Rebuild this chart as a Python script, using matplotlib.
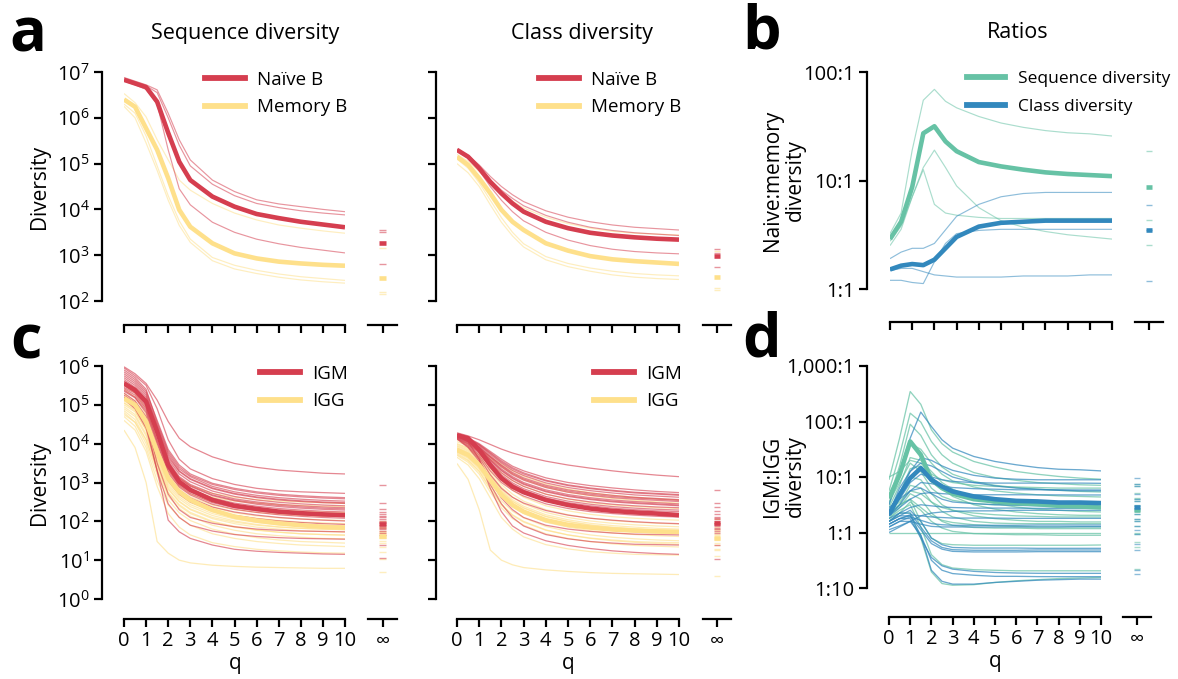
import numpy as np
import matplotlib
matplotlib.use("Agg")
import matplotlib.pyplot as plt
from matplotlib.ticker import FixedLocator, NullLocator

plt.rcParams['font.family'] = ['Open Sans', 'DejaVu Sans']
plt.rcParams['mathtext.fontset'] = 'custom'
plt.rcParams['mathtext.rm'] = 'Open Sans'
plt.rcParams['mathtext.it'] = 'Open Sans:italic'
plt.rcParams['mathtext.bf'] = 'Open Sans:bold'

# ---------------- data (log10 values) ----------------
q = [0, 0.5, 1, 1.5, 2, 2.5, 3, 4, 5, 6, 7, 8, 9, 10]

# panel a: sequence diversity
seq_naive_mean = [6.83, 6.75, 6.67, 6.35, 5.67, 5.04, 4.64, 4.28, 4.06, 3.90, 3.81, 3.73, 3.67, 3.61]
seq_naive = [
    [6.88, 6.80, 6.72, 6.61, 6.10, 5.52, 5.08, 4.64, 4.39, 4.21, 4.12, 4.06, 4.00, 3.95],
    [6.85, 6.78, 6.70, 6.55, 6.00, 5.40, 4.95, 4.55, 4.30, 4.13, 4.04, 3.97, 3.92, 3.88],
    [6.80, 6.72, 6.62, 6.30, 5.30, 4.45, 4.10, 3.72, 3.50, 3.35, 3.25, 3.17, 3.11, 3.05],
]
seq_naive_inf = [3.55, 3.50, 2.81]
seq_naive_inf_mean = 3.27
seq_memory_mean = [6.40, 6.24, 5.77, 5.30, 4.68, 3.99, 3.62, 3.26, 3.04, 2.93, 2.86, 2.82, 2.79, 2.77]
seq_memory = [
    [6.53, 6.33, 6.02, 5.52, 5.08, 4.64, 4.42, 4.13, 3.92, 3.77, 3.66, 3.59, 3.53, 3.48],
    [6.30, 6.10, 5.60, 4.95, 4.30, 3.75, 3.35, 2.95, 2.78, 2.67, 2.59, 2.53, 2.49, 2.45],
    [6.25, 6.00, 5.45, 4.85, 4.20, 3.65, 3.28, 2.88, 2.70, 2.60, 2.52, 2.46, 2.42, 2.39],
]
seq_memory_inf = [3.16, 2.20, 2.15]
seq_memory_inf_mean = 2.50

# panel a: class diversity
cls_naive_mean = [5.30, 5.15, 4.90, 4.60, 4.35, 4.13, 3.95, 3.73, 3.59, 3.49, 3.43, 3.39, 3.36, 3.34]
cls_naive = [
    [5.32, 5.18, 4.97, 4.72, 4.50, 4.32, 4.17, 3.97, 3.83, 3.73, 3.66, 3.61, 3.58, 3.55],
    [5.30, 5.15, 4.93, 4.65, 4.42, 4.24, 4.08, 3.87, 3.72, 3.61, 3.54, 3.49, 3.46, 3.43],
    [5.28, 5.12, 4.85, 4.50, 4.20, 3.95, 3.75, 3.50, 3.33, 3.21, 3.13, 3.08, 3.05, 3.03],
]
cls_naive_inf = [3.13, 3.05, 2.75]
cls_naive_inf_mean = 2.98
cls_memory_mean = [5.15, 4.97, 4.68, 4.35, 3.99, 3.73, 3.55, 3.26, 3.10, 2.98, 2.91, 2.87, 2.84, 2.81]
cls_memory = [
    [5.20, 5.05, 4.82, 4.58, 4.37, 4.18, 4.03, 3.83, 3.69, 3.59, 3.52, 3.48, 3.46, 3.44],
    [5.10, 4.90, 4.58, 4.20, 3.82, 3.50, 3.25, 2.97, 2.82, 2.72, 2.65, 2.60, 2.57, 2.55],
    [5.00, 4.80, 4.50, 4.10, 3.72, 3.42, 3.18, 2.90, 2.75, 2.65, 2.57, 2.52, 2.49, 2.47],
]
cls_memory_inf = [3.10, 2.28, 2.23]
cls_memory_inf_mean = 2.53

# panel b: naive:memory ratios
nm_seq_mean = [0.46, 0.62, 0.94, 1.435, 1.50, 1.36, 1.27, 1.17, 1.13, 1.10, 1.075, 1.06, 1.05, 1.04]
nm_seq = [
    [0.51, 0.70, 1.28, 1.74, 1.84, 1.73, 1.67, 1.59, 1.53, 1.49, 1.46, 1.44, 1.43, 1.41],
    [0.40, 0.55, 0.85, 1.12, 1.28, 1.12, 0.95, 0.75, 0.63, 0.57, 0.53, 0.50, 0.48, 0.46],
    [0.44, 0.58, 0.85, 1.10, 0.78, 0.70, 0.68, 0.66, 0.65, 0.65, 0.65, 0.65, 0.65, 0.65],
]
nm_seq_inf = [1.27, 0.64, 0.41]
nm_seq_inf_mean = 0.94
nm_cls_mean = [0.18, 0.215, 0.23, 0.22, 0.27, 0.375, 0.48, 0.575, 0.61, 0.62, 0.63, 0.63, 0.63, 0.63]
nm_cls = [
    [0.28, 0.34, 0.375, 0.375, 0.42, 0.545, 0.67, 0.78, 0.85, 0.88, 0.89, 0.89, 0.89, 0.89],
    [0.08, 0.08, 0.06, 0.05, 0.25, 0.42, 0.51, 0.54, 0.55, 0.55, 0.55, 0.55, 0.55, 0.55],
    [0.17, 0.19, 0.19, 0.16, 0.13, 0.12, 0.11, 0.11, 0.11, 0.12, 0.12, 0.12, 0.13, 0.13],
]
nm_cls_inf = [0.77, 0.54, 0.07]
nm_cls_inf_mean = 0.54

# panel c: sequence diversity, IGM / IGG
seq_igm_mean = [5.55, 5.38, 5.08, 4.31, 3.45, 3.02, 2.81, 2.55, 2.40, 2.32, 2.25, 2.21, 2.18, 2.16]
seq_igm = [
    [5.98, 5.80, 5.55, 5.12, 4.57, 4.14, 3.92, 3.66, 3.49, 3.39, 3.32, 3.28, 3.24, 3.22],
    [5.95, 5.75, 5.50, 4.90, 4.10, 3.60, 3.35, 3.10, 2.95, 2.85, 2.79, 2.76, 2.74, 2.72],
    [5.85, 5.65, 5.35, 4.60, 3.85, 3.45, 3.22, 2.98, 2.85, 2.76, 2.70, 2.66, 2.63, 2.61],
    [5.80, 5.60, 5.30, 4.50, 3.75, 3.35, 3.15, 2.90, 2.76, 2.67, 2.61, 2.57, 2.54, 2.52],
    [5.70, 5.50, 5.20, 4.40, 3.65, 3.28, 3.08, 2.84, 2.70, 2.61, 2.55, 2.51, 2.48, 2.46],
    [5.65, 5.45, 5.15, 4.35, 3.60, 3.22, 3.02, 2.78, 2.64, 2.55, 2.49, 2.45, 2.42, 2.40],
    [5.60, 5.42, 5.10, 4.30, 3.55, 3.15, 2.95, 2.72, 2.58, 2.50, 2.44, 2.40, 2.37, 2.35],
    [5.55, 5.38, 5.05, 4.25, 3.50, 3.10, 2.90, 2.66, 2.53, 2.44, 2.38, 2.34, 2.31, 2.29],
    [5.50, 5.33, 5.00, 4.20, 3.42, 3.02, 2.83, 2.60, 2.47, 2.39, 2.33, 2.29, 2.26, 2.24],
    [5.45, 5.30, 4.95, 4.10, 3.35, 2.95, 2.76, 2.53, 2.40, 2.32, 2.26, 2.22, 2.19, 2.17],
    [5.42, 5.25, 4.90, 4.05, 3.30, 2.92, 2.72, 2.48, 2.35, 2.27, 2.21, 2.17, 2.14, 2.12],
    [5.38, 5.20, 4.85, 4.00, 3.25, 2.88, 2.68, 2.44, 2.31, 2.23, 2.17, 2.13, 2.10, 2.08],
    [5.35, 5.18, 4.80, 3.90, 3.15, 2.80, 2.60, 2.37, 2.24, 2.16, 2.10, 2.06, 2.03, 2.01],
    [5.30, 5.10, 4.70, 3.80, 3.05, 2.70, 2.50, 2.28, 2.15, 2.07, 2.01, 1.97, 1.94, 1.92],
    [5.25, 5.05, 4.60, 3.50, 2.70, 2.30, 2.10, 1.95, 1.86, 1.80, 1.77, 1.75, 1.74, 1.73],
    [5.20, 5.00, 4.50, 3.30, 2.45, 2.10, 1.90, 1.75, 1.66, 1.61, 1.58, 1.56, 1.55, 1.54],
    [5.15, 4.90, 4.40, 3.30, 2.03, 1.73, 1.56, 1.39, 1.28, 1.23, 1.20, 1.18, 1.16, 1.15],
    [5.75, 5.55, 5.25, 4.45, 3.70, 3.30, 3.10, 2.86, 2.72, 2.63, 2.57, 2.53, 2.50, 2.48],
    [5.60, 5.40, 5.10, 4.25, 3.50, 3.12, 2.92, 2.68, 2.55, 2.47, 2.41, 2.37, 2.34, 2.32],
    [5.90, 5.70, 5.40, 4.55, 3.80, 3.40, 3.18, 2.95, 2.82, 2.73, 2.67, 2.63, 2.60, 2.58],
]
seq_igm_inf = [2.94, 2.48, 2.32, 2.25, 2.14, 2.05, 1.99, 1.95, 1.90, 1.86,
               1.82, 1.80, 1.75, 1.70, 1.65, 1.39, 1.05, 2.10, 2.00, 2.20]
seq_igm_inf_mean = 1.93
seq_igg_mean = [5.17, 5.00, 4.57, 3.79, 3.11, 2.76, 2.55, 2.29, 2.12, 2.02, 1.95, 1.90, 1.86, 1.84]
seq_igg = [
    [5.40, 5.20, 4.75, 3.95, 3.30, 3.00, 2.82, 2.62, 2.52, 2.47, 2.43, 2.41, 2.39, 2.38],
    [5.30, 5.10, 4.65, 3.85, 3.20, 2.90, 2.70, 2.50, 2.39, 2.33, 2.29, 2.26, 2.24, 2.23],
    [5.25, 5.05, 4.60, 3.80, 3.15, 2.83, 2.63, 2.42, 2.30, 2.23, 2.18, 2.15, 2.13, 2.12],
    [5.20, 5.00, 4.55, 3.75, 3.10, 2.78, 2.58, 2.36, 2.22, 2.14, 2.09, 2.06, 2.04, 2.02],
    [5.15, 4.95, 4.50, 3.70, 3.05, 2.73, 2.53, 2.30, 2.16, 2.08, 2.02, 1.98, 1.96, 1.94],
    [5.10, 4.92, 4.45, 3.65, 3.00, 2.68, 2.48, 2.25, 2.11, 2.02, 1.96, 1.92, 1.90, 1.88],
    [5.05, 4.88, 4.40, 3.60, 2.95, 2.63, 2.43, 2.20, 2.06, 1.97, 1.91, 1.87, 1.85, 1.83],
    [5.00, 4.82, 4.35, 3.55, 2.90, 2.58, 2.38, 2.15, 2.01, 1.92, 1.86, 1.82, 1.80, 1.78],
    [4.95, 4.75, 4.25, 3.45, 2.82, 2.50, 2.30, 2.07, 1.94, 1.85, 1.80, 1.76, 1.74, 1.72],
    [4.90, 4.70, 4.20, 3.40, 2.75, 2.43, 2.23, 2.00, 1.87, 1.78, 1.72, 1.68, 1.66, 1.64],
    [4.85, 4.62, 4.10, 3.30, 2.65, 2.33, 2.13, 1.90, 1.77, 1.68, 1.63, 1.59, 1.56, 1.55],
    [4.80, 4.55, 4.00, 3.20, 2.55, 2.22, 2.02, 1.80, 1.67, 1.58, 1.52, 1.48, 1.46, 1.44],
    [4.70, 4.45, 3.90, 3.05, 2.42, 2.10, 1.90, 1.68, 1.56, 1.48, 1.43, 1.39, 1.37, 1.35],
    [4.60, 4.35, 3.80, 2.90, 2.20, 1.85, 1.65, 1.45, 1.35, 1.28, 1.24, 1.21, 1.19, 1.18],
    [4.35, 3.90, 3.00, 1.48, 1.18, 1.00, 0.93, 0.87, 0.84, 0.82, 0.81, 0.80, 0.79, 0.79],
    [5.50, 5.30, 4.90, 4.10, 3.45, 3.12, 2.92, 2.72, 2.62, 2.56, 2.52, 2.50, 2.48, 2.46],
    [5.05, 4.85, 4.35, 3.50, 2.85, 2.52, 2.32, 2.10, 1.98, 1.90, 1.85, 1.82, 1.80, 1.79],
    [4.75, 4.55, 4.10, 3.35, 2.72, 2.40, 2.20, 1.98, 1.85, 1.77, 1.72, 1.68, 1.66, 1.65],
]
seq_igg_inf = [2.00, 1.90, 1.82, 1.75, 1.72, 1.69, 1.65, 1.62, 1.60, 1.56,
               1.50, 1.45, 1.33, 1.22, 0.70, 1.86, 1.58, 1.03]
seq_igg_inf_mean = 1.62

# panel c: class diversity, IGM / IGG
cls_igm_mean = [4.22, 4.14, 3.84, 3.45, 3.11, 2.89, 2.75, 2.55, 2.42, 2.33, 2.27, 2.23, 2.20, 2.16]
cls_igm = [
    [4.28, 4.20, 4.10, 3.98, 3.86, 3.76, 3.68, 3.55, 3.45, 3.37, 3.30, 3.24, 3.19, 3.15],
    [4.25, 4.15, 4.00, 3.80, 3.60, 3.42, 3.30, 3.12, 3.00, 2.92, 2.86, 2.81, 2.77, 2.74],
    [4.24, 4.13, 3.97, 3.75, 3.53, 3.35, 3.22, 3.04, 2.92, 2.84, 2.78, 2.73, 2.70, 2.67],
    [4.23, 4.12, 3.95, 3.72, 3.50, 3.31, 3.18, 2.99, 2.87, 2.79, 2.73, 2.68, 2.65, 2.62],
    [4.22, 4.10, 3.92, 3.68, 3.45, 3.26, 3.12, 2.93, 2.81, 2.73, 2.67, 2.62, 2.59, 2.56],
    [4.21, 4.09, 3.90, 3.64, 3.40, 3.20, 3.06, 2.87, 2.75, 2.67, 2.61, 2.57, 2.54, 2.51],
    [4.20, 4.08, 3.88, 3.60, 3.35, 3.15, 3.00, 2.81, 2.69, 2.61, 2.55, 2.51, 2.48, 2.45],
    [4.20, 4.06, 3.85, 3.56, 3.30, 3.10, 2.95, 2.76, 2.64, 2.56, 2.50, 2.46, 2.43, 2.40],
    [4.19, 4.05, 3.83, 3.52, 3.25, 3.05, 2.90, 2.70, 2.58, 2.50, 2.44, 2.40, 2.37, 2.35],
    [4.18, 4.04, 3.80, 3.48, 3.20, 2.99, 2.84, 2.64, 2.52, 2.44, 2.38, 2.34, 2.31, 2.29],
    [4.17, 4.02, 3.78, 3.45, 3.16, 2.95, 2.80, 2.60, 2.48, 2.40, 2.34, 2.30, 2.27, 2.25],
    [4.16, 4.00, 3.75, 3.40, 3.10, 2.90, 2.75, 2.55, 2.43, 2.35, 2.29, 2.25, 2.22, 2.20],
    [4.15, 3.98, 3.70, 3.30, 3.00, 2.80, 2.65, 2.45, 2.33, 2.25, 2.20, 2.16, 2.13, 2.11],
    [4.14, 3.95, 3.65, 3.20, 2.85, 2.62, 2.47, 2.28, 2.16, 2.08, 2.03, 1.99, 1.96, 1.94],
    [4.13, 3.92, 3.60, 3.05, 2.60, 2.30, 2.10, 1.90, 1.80, 1.74, 1.70, 1.67, 1.66, 1.65],
    [4.12, 3.90, 3.55, 2.95, 2.45, 2.10, 1.88, 1.66, 1.55, 1.48, 1.44, 1.41, 1.40, 1.39],
    [4.20, 4.05, 3.60, 2.85, 2.25, 1.88, 1.70, 1.50, 1.38, 1.30, 1.24, 1.20, 1.17, 1.15],
    [4.22, 4.10, 3.90, 3.66, 3.43, 3.23, 3.09, 2.90, 2.78, 2.70, 2.64, 2.60, 2.57, 2.54],
    [4.20, 4.07, 3.86, 3.58, 3.32, 3.12, 2.97, 2.78, 2.66, 2.58, 2.52, 2.48, 2.45, 2.42],
    [4.24, 4.14, 3.98, 3.77, 3.56, 3.38, 3.25, 3.06, 2.94, 2.86, 2.80, 2.75, 2.72, 2.69],
]
cls_igm_inf = [2.81, 2.46, 2.38, 2.27, 2.18, 2.12, 2.05, 2.00, 1.96, 1.92,
               1.88, 1.84, 1.80, 1.75, 1.70, 1.39, 1.02, 1.95, 2.08, 1.90]
cls_igm_inf_mean = 1.96
cls_igg_mean = [3.84, 3.71, 3.45, 3.06, 2.68, 2.42, 2.25, 2.03, 1.91, 1.84, 1.79, 1.76, 1.74, 1.73]
cls_igg = [
    [4.05, 3.95, 3.80, 3.60, 3.40, 3.22, 3.08, 2.88, 2.75, 2.66, 2.59, 2.54, 2.50, 2.47],
    [4.00, 3.90, 3.72, 3.48, 3.25, 3.05, 2.90, 2.70, 2.57, 2.48, 2.42, 2.38, 2.35, 2.33],
    [3.98, 3.87, 3.68, 3.42, 3.15, 2.92, 2.75, 2.54, 2.41, 2.32, 2.26, 2.22, 2.19, 2.17],
    [3.95, 3.84, 3.64, 3.35, 3.05, 2.80, 2.62, 2.40, 2.27, 2.18, 2.12, 2.08, 2.05, 2.03],
    [3.93, 3.81, 3.60, 3.28, 2.95, 2.70, 2.52, 2.30, 2.17, 2.08, 2.02, 1.98, 1.95, 1.93],
    [3.90, 3.78, 3.55, 3.22, 2.88, 2.62, 2.45, 2.23, 2.10, 2.01, 1.95, 1.91, 1.88, 1.86],
    [3.88, 3.75, 3.52, 3.17, 2.82, 2.56, 2.39, 2.17, 2.04, 1.95, 1.89, 1.85, 1.82, 1.80],
    [3.85, 3.72, 3.48, 3.12, 2.77, 2.51, 2.34, 2.12, 1.99, 1.90, 1.84, 1.80, 1.77, 1.75],
    [3.82, 3.68, 3.44, 3.06, 2.70, 2.44, 2.27, 2.05, 1.92, 1.83, 1.77, 1.73, 1.70, 1.68],
    [3.80, 3.65, 3.40, 3.00, 2.63, 2.37, 2.20, 1.98, 1.85, 1.76, 1.70, 1.66, 1.63, 1.61],
    [3.78, 3.62, 3.35, 2.92, 2.53, 2.26, 2.09, 1.87, 1.74, 1.65, 1.59, 1.55, 1.52, 1.50],
    [3.75, 3.58, 3.30, 2.85, 2.45, 2.17, 2.00, 1.78, 1.65, 1.56, 1.50, 1.46, 1.43, 1.41],
    [3.70, 3.52, 3.22, 2.75, 2.35, 2.07, 1.90, 1.68, 1.56, 1.48, 1.42, 1.38, 1.36, 1.34],
    [3.65, 3.45, 3.10, 2.60, 2.10, 1.80, 1.60, 1.40, 1.29, 1.22, 1.18, 1.15, 1.14, 1.13],
    [3.49, 3.08, 2.30, 1.26, 1.00, 0.88, 0.81, 0.75, 0.71, 0.68, 0.66, 0.65, 0.64, 0.63],
    [4.10, 4.00, 3.85, 3.66, 3.47, 3.30, 3.16, 2.96, 2.83, 2.74, 2.67, 2.62, 2.58, 2.55],
    [3.87, 3.74, 3.50, 3.14, 2.78, 2.52, 2.35, 2.13, 2.00, 1.91, 1.85, 1.81, 1.78, 1.76],
    [3.72, 3.56, 3.28, 2.83, 2.42, 2.15, 1.98, 1.77, 1.65, 1.57, 1.52, 1.48, 1.46, 1.45],
]
cls_igg_inf = [2.05, 1.95, 1.85, 1.78, 1.72, 1.68, 1.64, 1.60, 1.57, 1.52,
               1.45, 1.39, 1.30, 1.26, 0.59, 1.80, 1.55, 1.10]
cls_igg_inf_mean = 1.56

# panel d: IGM:IGG ratios
mg_seq_mean = [0.62, 1.04, 1.64, 1.40, 0.95, 0.80, 0.70, 0.60, 0.56, 0.53, 0.51, 0.48, 0.47, 0.45]
mg_seq = [
    [0.95, 1.70, 2.54, 2.31, 1.85, 1.60, 1.45, 1.28, 1.18, 1.10, 1.05, 1.01, 0.98, 0.96],
    [0.75, 1.40, 2.15, 1.99, 1.64, 1.40, 1.25, 1.08, 0.99, 0.94, 0.90, 0.88, 0.86, 0.85],
    [0.60, 1.20, 1.95, 1.75, 1.40, 1.18, 1.05, 0.92, 0.85, 0.81, 0.78, 0.76, 0.74, 0.73],
    [0.50, 1.00, 1.60, 1.50, 1.25, 1.05, 0.93, 0.82, 0.75, 0.71, 0.68, 0.66, 0.65, 0.64],
    [0.45, 0.85, 1.35, 1.30, 1.10, 0.90, 0.78, 0.62, 0.52, 0.46, 0.42, 0.40, 0.38, 0.37],
    [0.40, 0.70, 1.15, 1.20, 1.00, 0.80, 0.65, 0.50, 0.42, 0.37, 0.34, 0.32, 0.31, 0.31],
    [0.35, 0.60, 1.00, 0.95, 0.70, 0.50, 0.40, 0.30, 0.25, 0.22, 0.20, 0.20, 0.19, 0.19],
    [0.30, 0.50, 0.85, 0.80, 0.55, 0.38, 0.28, 0.20, 0.17, 0.16, 0.16, 0.16, 0.16, 0.16],
    [0.25, 0.45, 0.70, 0.60, 0.35, 0.20, 0.13, 0.09, 0.08, 0.08, 0.07, 0.07, 0.07, 0.07],
    [0.00, 0.00, 0.00, 0.00, 0.00, 0.00, 0.00, 0.00, 0.00, 0.00, 0.00, 0.00, 0.00, 0.00],
    [0.20, 0.35, 0.55, 0.40, 0.20, 0.08, 0.02, -0.02, -0.03, -0.04, -0.04, -0.05, -0.05, -0.05],
    [0.30, 0.50, 0.60, 0.20, -0.10, -0.20, -0.22, -0.23, -0.23, -0.23, -0.23, -0.23, -0.23, -0.225],
    [0.20, 0.35, 0.35, -0.10, -0.71, -0.92, -0.95, -0.94, -0.90, -0.87, -0.85, -0.83, -0.82, -0.81],
    [0.25, 0.40, 0.50, 0.10, -0.40, -0.58, -0.64, -0.67, -0.68, -0.69, -0.69, -0.69, -0.69, -0.69],
    [1.00, 1.10, 1.30, 1.25, 1.05, 0.95, 0.90, 0.85, 0.83, 0.82, 0.81, 0.80, 0.80, 0.80],
    [0.55, 0.90, 1.25, 1.10, 0.80, 0.65, 0.58, 0.52, 0.50, 0.50, 0.50, 0.50, 0.50, 0.50],
    [0.40, 0.55, 0.75, 0.70, 0.55, 0.45, 0.40, 0.35, 0.32, 0.30, 0.29, 0.28, 0.28, 0.28],
    [0.35, 0.50, 0.60, 0.45, 0.30, 0.22, 0.18, 0.14, 0.12, 0.11, 0.10, 0.10, 0.10, 0.10],
]
mg_seq_inf = [0.87, 0.72, 0.63, 0.57, 0.50, 0.44, 0.38, 0.33, 0.24, 0.12,
              0.00, -0.03, -0.18, -0.27, -0.65, 0.83, 0.61, 0.21]
mg_seq_inf_mean = 0.40
mg_cls_mean = [0.32, 0.68, 0.98, 1.16, 0.95, 0.83, 0.74, 0.65, 0.60, 0.57, 0.56, 0.54, 0.54, 0.53]
mg_cls = [
    [0.50, 1.10, 1.70, 2.17, 1.91, 1.67, 1.52, 1.37, 1.28, 1.22, 1.17, 1.14, 1.13, 1.11],
    [0.40, 0.70, 1.10, 1.35, 1.30, 1.20, 1.12, 1.03, 0.98, 0.96, 0.95, 0.95, 0.95, 0.95],
    [0.35, 0.60, 0.90, 1.05, 1.00, 0.95, 0.92, 0.90, 0.89, 0.89, 0.89, 0.89, 0.89, 0.886],
    [0.30, 0.50, 0.75, 0.90, 0.88, 0.84, 0.81, 0.79, 0.78, 0.77, 0.77, 0.77, 0.767, 0.766],
    [0.30, 0.45, 0.60, 0.70, 0.72, 0.70, 0.69, 0.68, 0.68, 0.68, 0.678, 0.678, 0.676, 0.676],
    [0.20, 0.35, 0.45, 0.50, 0.48, 0.46, 0.45, 0.44, 0.44, 0.44, 0.435, 0.435, 0.435, 0.435],
    [0.15, 0.25, 0.32, 0.30, 0.28, 0.27, 0.26, 0.26, 0.26, 0.255, 0.255, 0.255, 0.255, 0.255],
    [0.10, 0.20, 0.28, 0.22, 0.16, 0.14, 0.13, 0.13, 0.13, 0.13, 0.135, 0.135, 0.135, 0.135],
    [0.05, 0.12, 0.20, 0.15, 0.11, 0.10, 0.10, 0.10, 0.10, 0.10, 0.10, 0.10, 0.105, 0.105],
    [0.20, 0.30, 0.40, 0.20, -0.10, -0.22, -0.27, -0.28, -0.28, -0.28, -0.285, -0.285, -0.285, -0.285],
    [0.25, 0.35, 0.35, 0.10, -0.15, -0.27, -0.31, -0.32, -0.32, -0.32, -0.315, -0.315, -0.315, -0.315],
    [0.15, 0.25, 0.30, 0.05, -0.20, -0.30, -0.34, -0.35, -0.35, -0.35, -0.345, -0.345, -0.345, -0.345],
    [0.20, 0.30, 0.30, -0.05, -0.68, -0.88, -0.93, -0.93, -0.90, -0.88, -0.86, -0.85, -0.84, -0.84],
    [0.15, 0.25, 0.25, -0.10, -0.45, -0.60, -0.66, -0.70, -0.72, -0.73, -0.735, -0.736, -0.736, -0.736],
    [0.10, 0.20, 0.20, -0.05, -0.50, -0.68, -0.74, -0.77, -0.79, -0.79, -0.795, -0.796, -0.796, -0.796],
    [0.35, 0.80, 1.10, 1.25, 1.20, 1.10, 1.00, 0.90, 0.84, 0.80, 0.78, 0.76, 0.75, 0.75],
    [0.00, 0.10, 0.20, 0.30, 0.35, 0.37, 0.38, 0.39, 0.39, 0.40, 0.40, 0.40, 0.40, 0.40],
    [0.45, 0.60, 0.75, 0.80, 0.70, 0.60, 0.55, 0.52, 0.50, 0.49, 0.48, 0.47, 0.47, 0.46],
]
mg_cls_inf = [0.99, 0.83, 0.69, 0.61, 0.47, 0.41, 0.33, 0.24, 0.05, -0.03,
              -0.21, -0.32, -0.68, -0.75, 0.87, 0.57, 0.12, 0.21]
mg_cls_inf_mean = 0.46

x_ticks = list(range(11))
diversity_ticks_a = [2, 3, 4, 5, 6, 7]
diversity_ticks_c = [0, 1, 2, 3, 4, 5, 6]
ratio_ticks_b = [1, 10, 100]
ratio_labels_b = ['1:1', '10:1', '100:1']
ratio_ticks_d = [0.1, 1, 10, 100, 1000]
ratio_labels_d = ['1:10', '1:1', '10:1', '100:1', '1,000:1']

RED, YEL, GRN, BLU = '#d53e4f', '#fee08b', '#66c2a5', '#3288bd'

# ---------------- figure ----------------
W, H = 1178, 679
fig = plt.figure(figsize=(W / 100, H / 100), dpi=100)
PT = 0.72  # px -> pt at dpi 100


def box(x0, x1, y0, y1):
    return [x0 / W, 1 - y1 / H, (x1 - x0) / W, (y1 - y0) / H]


TICK_FS = 14.5


def style_main(ax, ylim, ybounds, yticks, ylabels, left_off, bottom_off, xlabels):
    ax.set_yscale('log')
    ax.set_xlim(0, 10)
    ax.set_ylim(*ylim)
    for s in ('top', 'right'):
        ax.spines[s].set_visible(False)
    for s in ('left', 'bottom'):
        ax.spines[s].set_linewidth(1.6)
    ax.spines['left'].set_position(('outward', left_off * PT))
    ax.spines['bottom'].set_position(('outward', bottom_off * PT))
    ax.spines['left'].set_bounds(*ybounds)
    ax.spines['bottom'].set_bounds(0, 10)
    ax.yaxis.set_major_locator(FixedLocator(yticks))
    ax.yaxis.set_minor_locator(NullLocator())
    ax.set_yticklabels(ylabels)
    ax.set_xticks(x_ticks)
    ax.set_xticklabels([str(i) for i in x_ticks] if xlabels else [])
    ax.tick_params(axis='both', which='major', length=6, width=1.6,
                   labelsize=TICK_FS, pad=3)
    ax.patch.set_alpha(0)


def style_inf(ax, ylim, bottom_off, xlabel):
    ax.set_yscale('log')
    ax.set_xlim(-1, 1)
    ax.set_ylim(*ylim)
    for s in ('top', 'right', 'left'):
        ax.spines[s].set_visible(False)
    ax.spines['bottom'].set_linewidth(1.6)
    ax.spines['bottom'].set_position(('outward', bottom_off * PT))
    ax.yaxis.set_major_locator(NullLocator())
    ax.yaxis.set_minor_locator(NullLocator())
    ax.set_xticks([0])
    ax.set_xticklabels(['\u221e'] if xlabel else [])
    ax.tick_params(axis='x', length=6, width=1.6, labelsize=TICK_FS, pad=3)
    ax.patch.set_alpha(0)


def draw_lines(ax, groups, alpha=0.55, lw=0.85):
    qa = np.array(q)
    for samples, mean, color in groups:
        for s in samples:
            ax.plot(qa, 10 ** np.array(s), color=color, lw=lw, alpha=alpha,
                    solid_capstyle='butt')
    for samples, mean, color in groups:
        ax.plot(qa, 10 ** np.array(mean), color=color, lw=3.3,
                solid_capstyle='butt')


def draw_inf(ax, groups):
    for vals, mean, color in groups:
        ax.hlines(10 ** np.array(vals), -0.24, 0.24, colors=color, lw=1.0, alpha=0.55)
    for vals, mean, color in groups:
        ax.hlines([10 ** mean], -0.24, 0.24, colors=color, lw=3.3)


def sci(ticks):
    return [r'$\mathdefault{10^{%d}}$' % t for t in ticks]


def legend(ax, labels, colors, x, y, fs=13.5, spacing=0.5, hl=2.13, tp=0.64):
    handles = [plt.Line2D([], [], color=c, lw=4.2) for c in colors]
    ax.legend(handles, labels, loc='upper left', bbox_to_anchor=(x / W, 1 - y / H),
              bbox_transform=fig.transFigure, frameon=False, fontsize=fs,
              handlelength=hl, handletextpad=tp, labelspacing=spacing,
              borderpad=0, borderaxespad=0)


# ---- row 1 ----
ylim_a = (1e2, 1e7)
ax1 = fig.add_axes(box(124, 345, 72, 301))
style_main(ax1, ylim_a, ylim_a, [10 ** t for t in diversity_ticks_a],
           sci(diversity_ticks_a), 22, 24, False)
draw_lines(ax1, [(seq_memory, seq_memory_mean, YEL), (seq_naive, seq_naive_mean, RED)])
legend(ax1, ['Na\u00efve B', 'Memory B'], [RED, YEL], 205, 71)
ax1i = fig.add_axes(box(368, 397, 72, 301))
style_inf(ax1i, ylim_a, 24, False)
draw_inf(ax1i, [(seq_memory_inf, seq_memory_inf_mean, YEL), (seq_naive_inf, seq_naive_inf_mean, RED)])

ax2 = fig.add_axes(box(457, 679, 72, 301))
style_main(ax2, ylim_a, ylim_a, [10 ** t for t in diversity_ticks_a],
           ['' for _ in diversity_ticks_a], 21, 24, False)
draw_lines(ax2, [(cls_memory, cls_memory_mean, YEL), (cls_naive, cls_naive_mean, RED)])
legend(ax2, ['Na\u00efve B', 'Memory B'], [RED, YEL], 539, 71)
ax2i = fig.add_axes(box(703, 731, 72, 301))
style_inf(ax2i, ylim_a, 24, False)
draw_inf(ax2i, [(cls_memory_inf, cls_memory_inf_mean, YEL), (cls_naive_inf, cls_naive_inf_mean, RED)])

ylim_b = (1, 100)
ax3 = fig.add_axes(box(890, 1112, 72, 289))
style_main(ax3, ylim_b, ylim_b, ratio_ticks_b, ratio_labels_b, 23, 33, False)
draw_lines(ax3, [(nm_seq, nm_seq_mean, GRN), (nm_cls, nm_cls_mean, BLU)])
legend(ax3, ['Sequence diversity', 'Class diversity'], [GRN, BLU], 967, 71,
       fs=12.5, spacing=0.68, hl=2.2, tp=0.72)
ax3i = fig.add_axes(box(1135, 1163, 72, 289))
style_inf(ax3i, ylim_b, 33, False)
draw_inf(ax3i, [(nm_seq_inf, nm_seq_inf_mean, GRN), (nm_cls_inf, nm_cls_inf_mean, BLU)])

# ---- row 2 ----
ylim_c = (1, 1e6)
ax4 = fig.add_axes(box(124, 345, 366, 599))
style_main(ax4, ylim_c, ylim_c, [10 ** t for t in diversity_ticks_c],
           sci(diversity_ticks_c), 22, 20, True)
draw_lines(ax4, [(seq_igg, seq_igg_mean, YEL), (seq_igm, seq_igm_mean, RED)], alpha=0.62, lw=0.9)
legend(ax4, ['IGM', 'IGG'], [RED, YEL], 260, 365)
ax4i = fig.add_axes(box(368, 397, 366, 599))
style_inf(ax4i, ylim_c, 20, True)
draw_inf(ax4i, [(seq_igg_inf, seq_igg_inf_mean, YEL), (seq_igm_inf, seq_igm_inf_mean, RED)])

ax5 = fig.add_axes(box(457, 679, 366, 599))
style_main(ax5, ylim_c, ylim_c, [10 ** t for t in diversity_ticks_c],
           ['' for _ in diversity_ticks_c], 21, 20, True)
draw_lines(ax5, [(cls_igg, cls_igg_mean, YEL), (cls_igm, cls_igm_mean, RED)], alpha=0.62, lw=0.9)
legend(ax5, ['IGM', 'IGG'], [RED, YEL], 594, 365)
ax5i = fig.add_axes(box(703, 731, 366, 599))
style_inf(ax5i, ylim_c, 20, True)
draw_inf(ax5i, [(cls_igg_inf, cls_igg_inf_mean, YEL), (cls_igm_inf, cls_igm_inf_mean, RED)])

ylim_d = (0.1, 1000)
ax6 = fig.add_axes(box(889, 1101, 366, 588))
style_main(ax6, ylim_d, ylim_d, ratio_ticks_d, ratio_labels_d, 22, 29, True)
draw_lines(ax6, [(mg_seq, mg_seq_mean, GRN), (mg_cls, mg_cls_mean, BLU)], alpha=0.72, lw=0.95)
ax6i = fig.add_axes(box(1123, 1151, 366, 588))
style_inf(ax6i, ylim_d, 29, True)
draw_inf(ax6i, [(mg_seq_inf, mg_seq_inf_mean, GRN), (mg_cls_inf, mg_cls_inf_mean, BLU)])

# ---- texts ----
def ftext(x, y, s, **kw):
    fig.text(x / W, 1 - y / H, s, **kw)

ftext(245, 33, 'Sequence diversity', ha='center', va='center', fontsize=15.5)
ftext(582, 33, 'Class diversity', ha='center', va='center', fontsize=15.5)
ftext(1018, 33, 'Ratios', ha='center', va='center', fontsize=15.5)

ftext(39, 187, 'Diversity', ha='center', va='center', rotation=90, fontsize=15)
ftext(39, 483, 'Diversity', ha='center', va='center', rotation=90, fontsize=15)
ftext(784, 180, 'Naive:memory\ndiversity', ha='center', va='center', rotation=90,
      fontsize=15, multialignment='center', linespacing=1.15)
ftext(784, 476, 'IGM:IGG\ndiversity', ha='center', va='center', rotation=90,
      fontsize=15, multialignment='center', linespacing=1.15)

ftext(235, 663, 'q', ha='center', va='center', fontsize=15)
ftext(568, 663, 'q', ha='center', va='center', fontsize=15)
ftext(995, 662, 'q', ha='center', va='center', fontsize=15)

for letter, x, y in [('a', 28, 36), ('b', 762, 33), ('c', 26, 343), ('d', 762, 341)]:
    ftext(x, y, letter, ha='center', va='center', fontsize=44, fontweight='bold')

fig.savefig('out.png', dpi=100)
